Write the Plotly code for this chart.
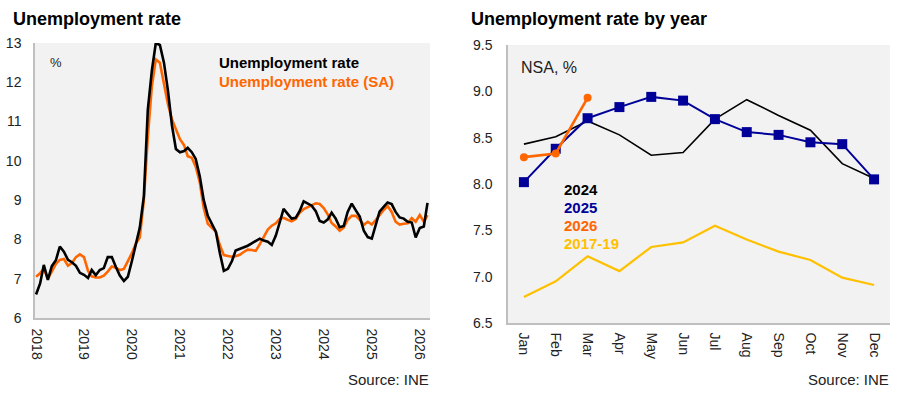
import plotly.graph_objects as go
import pandas as pd

W, H = 900, 394
FONT = "Liberation Sans, Arial, sans-serif"

# ---------------- Left chart data (monthly, Jan 2018 - Mar 2026) ----------------
months_left = pd.date_range("2018-01-01", periods=99, freq="MS")

rate_nsa = [
    6.60, 6.88, 7.35, 6.97, 7.32, 7.47, 7.82, 7.69, 7.48, 7.42, 7.33, 7.15,   # 2018
    7.10, 7.02, 7.22, 7.09, 7.22, 7.27, 7.55, 7.55, 7.30, 7.08, 6.94, 7.05,   # 2019
    7.45, 7.90, 8.30, 9.10, 11.30, 12.30, 13.00, 12.95, 12.50, 11.80, 10.90, 10.30,  # 2020
    10.22, 10.25, 10.33, 10.22, 10.05, 9.60, 9.00, 8.60, 8.40, 8.20, 7.65, 7.20,  # 2021
    7.25, 7.45, 7.72, 7.76, 7.80, 7.84, 7.90, 7.96, 8.02, 7.97, 7.94, 7.86,   # 2022
    8.10, 8.45, 8.78, 8.65, 8.53, 8.55, 8.72, 8.97, 8.92, 8.86, 8.72, 8.47,   # 2023
    8.43, 8.51, 8.68, 8.53, 8.31, 8.34, 8.70, 8.91, 8.74, 8.58, 8.22, 8.06,   # 2024
    8.02, 8.38, 8.71, 8.83, 8.94, 8.90, 8.70, 8.56, 8.53, 8.45, 8.43, 8.05,   # 2025
    8.29, 8.33, 8.93,                                                         # 2026
]

rate_sa = [
    7.05, 7.14, 7.25, 7.00, 7.18, 7.38, 7.48, 7.50, 7.33, 7.40, 7.55, 7.62,   # 2018
    7.55, 7.20, 7.06, 7.03, 7.03, 7.08, 7.18, 7.31, 7.28, 7.22, 7.25, 7.45,   # 2019
    7.65, 7.90, 8.05, 9.00, 10.60, 11.90, 12.58, 12.50, 12.00, 11.45, 11.05, 10.80,  # 2020
    10.55, 10.40, 10.12, 10.08, 9.85, 9.45, 8.80, 8.40, 8.30, 8.20, 7.85, 7.60,   # 2021
    7.58, 7.56, 7.57, 7.61, 7.68, 7.74, 7.73, 7.71, 7.88, 8.05, 8.25, 8.35,   # 2022
    8.41, 8.53, 8.55, 8.50, 8.46, 8.52, 8.68, 8.77, 8.82, 8.87, 8.92, 8.90,   # 2023
    8.80, 8.63, 8.42, 8.33, 8.22, 8.30, 8.50, 8.60, 8.60, 8.50, 8.37, 8.45,   # 2024
    8.38, 8.50, 8.62, 8.75, 8.85, 8.70, 8.45, 8.38, 8.40, 8.41, 8.54, 8.45,   # 2025
    8.62, 8.45, 8.62,                                                         # 2026
]

year_tick_dates = ["2018-01-01", "2019-01-01", "2020-01-01", "2021-01-01", "2022-01-01",
                   "2023-01-01", "2024-01-01", "2025-01-01", "2026-01-01"]
year_tick_labels = ["2018", "2019", "2020", "2021", "2022", "2023", "2024", "2025", "2026"]

# ---------------- Right chart data (by month of year) ----------------
month_labels = ["Jan", "Feb", "Mar", "Apr", "May", "Jun",
                "Jul", "Aug", "Sep", "Oct", "Nov", "Dec"]
y2024 = [8.43, 8.51, 8.68, 8.53, 8.31, 8.34, 8.70, 8.91, 8.74, 8.58, 8.22, 8.06]
y2025 = [8.02, 8.38, 8.71, 8.83, 8.94, 8.90, 8.70, 8.56, 8.53, 8.45, 8.43, 8.05]
y2026 = [8.29, 8.33, 8.93]
y2017_19 = [6.78, 6.95, 7.22, 7.06, 7.32, 7.37, 7.55, 7.40, 7.27, 7.18, 6.99, 6.91]

BLACK = "#000000"
ORANGE = "#ff6600"
NAVY = "#000099"
GOLD = "#ffc000"
AXIS = "#bfbfbf"
TXT = "#222222"


def px(x):
    return x / W


def py(y):
    return (H - y) / H


fig = go.Figure()

# Left chart
fig.add_trace(go.Scatter(x=months_left, y=rate_sa, mode="lines",
                         line=dict(color=ORANGE, width=2.6), xaxis="x", yaxis="y",
                         name="Unemployment rate (SA)", showlegend=False))
fig.add_trace(go.Scatter(x=months_left, y=rate_nsa, mode="lines",
                         line=dict(color=BLACK, width=2.6), xaxis="x", yaxis="y",
                         name="Unemployment rate", showlegend=False))

# Right chart
fig.add_trace(go.Scatter(x=month_labels, y=y2017_19, mode="lines",
                         line=dict(color=GOLD, width=2.2), xaxis="x2", yaxis="y2",
                         name="2017-19", showlegend=False))
fig.add_trace(go.Scatter(x=month_labels, y=y2024, mode="lines",
                         line=dict(color=BLACK, width=1.6), xaxis="x2", yaxis="y2",
                         name="2024", showlegend=False))
fig.add_trace(go.Scatter(x=month_labels, y=y2025, mode="lines+markers",
                         line=dict(color=NAVY, width=2),
                         marker=dict(symbol="square", size=10, color=NAVY),
                         xaxis="x2", yaxis="y2", name="2025", showlegend=False))
fig.add_trace(go.Scatter(x=month_labels[:len(y2026)], y=y2026, mode="lines+markers",
                         line=dict(color=ORANGE, width=2.6),
                         marker=dict(symbol="circle", size=8, color=ORANGE),
                         xaxis="x2", yaxis="y2", name="2026", showlegend=False))

tickfont = dict(family=FONT, size=14, color=TXT)

fig.update_layout(
    width=W, height=H,
    margin=dict(l=0, r=0, t=0, b=0),
    paper_bgcolor="white",
    plot_bgcolor="#f2f2f2",
    showlegend=False,
    font=dict(family=FONT, color=TXT),
    xaxis=dict(
        domain=[px(35), px(430)], anchor="y", type="date", automargin=False,
        range=["2017-12-24", "2026-03-20"],
        tickmode="array", tickvals=year_tick_dates, ticktext=year_tick_labels,
        tickangle=90, tickfont=tickfont,
        showgrid=False, zeroline=False,
        showline=True, linecolor=AXIS, linewidth=1.5,
        ticks="outside", ticklen=6, tickcolor="rgba(0,0,0,0)",
    ),
    yaxis=dict(
        domain=[py(318), py(43)], anchor="x", automargin=False,
        range=[6, 13], tickmode="linear", tick0=6, dtick=1,
        tickfont=tickfont,
        showgrid=False, zeroline=False,
        showline=True, linecolor=AXIS, linewidth=1.5,
        ticks="outside", ticklen=9, tickcolor="rgba(0,0,0,0)",
    ),
    xaxis2=dict(
        domain=[px(508), px(890)], anchor="y2", type="category", automargin=False,
        range=[-0.5, 11.5], categoryorder="array", categoryarray=month_labels,
        tickangle=90, tickfont=tickfont,
        showgrid=False, zeroline=False,
        showline=True, linecolor=AXIS, linewidth=1.5,
        ticks="outside", ticklen=5, tickcolor="rgba(0,0,0,0)",
    ),
    yaxis2=dict(
        domain=[py(323), py(45)], anchor="x2", automargin=False,
        range=[6.5, 9.5], tickmode="linear", tick0=6.5, dtick=0.5,
        tickformat=".1f", tickfont=tickfont,
        showgrid=False, zeroline=False,
        showline=True, linecolor=AXIS, linewidth=1.5,
        ticks="outside", ticklen=11, tickcolor="rgba(0,0,0,0)",
    ),
)


def note(text, x, y, size, color=TXT, bold=False, xanchor="left"):
    t = f"<b>{text}</b>" if bold else text
    fig.add_annotation(text=t, x=px(x), y=py(y), xref="paper", yref="paper",
                       xanchor=xanchor, yanchor="middle", showarrow=False,
                       font=dict(family=FONT, size=size, color=color))


# Titles
note("Unemployment rate", 11, 19, 18, color="#000000", bold=True)
note("Unemployment rate by year", 469, 19, 18, color="#000000", bold=True)

# Left chart texts
note("%", 48, 62, 13)
note("Unemployment rate", 217, 63, 15, color=BLACK, bold=True)
note("Unemployment rate (SA)", 217, 82, 15, color=ORANGE, bold=True)
note("Source: INE", 431, 379, 15, xanchor="right")

# Right chart texts
note("NSA, %", 519, 67, 16)
note("2024", 562, 189, 15, color=BLACK, bold=True)
note("2025", 562, 207, 15, color=NAVY, bold=True)
note("2026", 562, 225, 15, color=ORANGE, bold=True)
note("2017-19", 562, 243, 15, color=GOLD, bold=True)
note("Source: INE", 891, 379, 15, xanchor="right")

fig.write_html(
    "out.html",
    config={"displayModeBar": False},
    post_script="document.body.style.margin='0';document.body.style.padding='0';"
                "document.body.style.overflow='hidden';",
)
